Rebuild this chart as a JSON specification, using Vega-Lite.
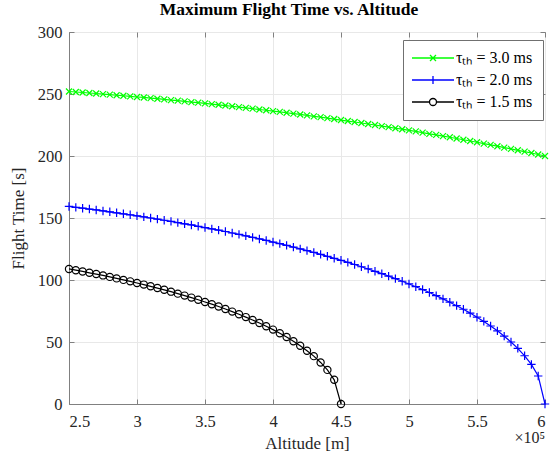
{
  "$schema": "https://vega.github.io/schema/vega-lite/v6.json",
  "width": 476,
  "height": 372,
  "autosize": {"type": "none"},
  "padding": {"left": 69, "top": 32, "right": 11, "bottom": 51},
  "background": "white",
  "title": {"text": "Maximum Flight Time vs. Altitude", "font": "Liberation Serif", "fontSize": 17.5, "fontWeight": "bold", "color": "#000000", "anchor": "middle", "frame": "group", "offset": 6, "dx": -18},
  "config": {
    "view": {"stroke": "#808080", "strokeWidth": 1},
    "axis": {"labelFont": "Liberation Serif", "labelFontSize": 16.5, "labelColor": "#262626", "titleFont": "Liberation Serif", "titleFontSize": 17, "titleFontWeight": "normal", "titleColor": "#262626", "domainColor": "#808080", "tickColor": "#808080", "gridColor": "#e8e8e8", "gridWidth": 1}
  },
  "data": {"values": [
    {"s":"3.0","h":250000,"t":252.0},{"s":"3.0","h":255000,"t":251.6},{"s":"3.0","h":260000,"t":251.2},{"s":"3.0","h":265000,"t":250.8},{"s":"3.0","h":270000,"t":250.4},{"s":"3.0","h":275000,"t":249.9},{"s":"3.0","h":280000,"t":249.5},{"s":"3.0","h":285000,"t":249.0},{"s":"3.0","h":290000,"t":248.6},{"s":"3.0","h":295000,"t":248.1},
    {"s":"3.0","h":300000,"t":247.6},{"s":"3.0","h":305000,"t":247.2},{"s":"3.0","h":310000,"t":246.7},{"s":"3.0","h":315000,"t":246.2},{"s":"3.0","h":320000,"t":245.7},{"s":"3.0","h":325000,"t":245.1},{"s":"3.0","h":330000,"t":244.6},{"s":"3.0","h":335000,"t":244.1},{"s":"3.0","h":340000,"t":243.5},{"s":"3.0","h":345000,"t":243.0},
    {"s":"3.0","h":350000,"t":242.4},{"s":"3.0","h":355000,"t":241.8},{"s":"3.0","h":360000,"t":241.3},{"s":"3.0","h":365000,"t":240.7},{"s":"3.0","h":370000,"t":240.1},{"s":"3.0","h":375000,"t":239.4},{"s":"3.0","h":380000,"t":238.8},{"s":"3.0","h":385000,"t":238.2},{"s":"3.0","h":390000,"t":237.5},{"s":"3.0","h":395000,"t":236.9},
    {"s":"3.0","h":400000,"t":236.2},{"s":"3.0","h":405000,"t":235.6},{"s":"3.0","h":410000,"t":234.9},{"s":"3.0","h":415000,"t":234.2},{"s":"3.0","h":420000,"t":233.5},{"s":"3.0","h":425000,"t":232.8},{"s":"3.0","h":430000,"t":232.0},{"s":"3.0","h":435000,"t":231.3},{"s":"3.0","h":440000,"t":230.5},{"s":"3.0","h":445000,"t":229.8},
    {"s":"3.0","h":450000,"t":229.0},{"s":"3.0","h":455000,"t":228.2},{"s":"3.0","h":460000,"t":227.4},{"s":"3.0","h":465000,"t":226.6},{"s":"3.0","h":470000,"t":225.8},{"s":"3.0","h":475000,"t":225.0},{"s":"3.0","h":480000,"t":224.1},{"s":"3.0","h":485000,"t":223.3},{"s":"3.0","h":490000,"t":222.4},{"s":"3.0","h":495000,"t":221.6},
    {"s":"3.0","h":500000,"t":220.7},{"s":"3.0","h":505000,"t":219.8},{"s":"3.0","h":510000,"t":218.9},{"s":"3.0","h":515000,"t":217.9},{"s":"3.0","h":520000,"t":217.0},{"s":"3.0","h":525000,"t":216.0},{"s":"3.0","h":530000,"t":215.1},{"s":"3.0","h":535000,"t":214.1},{"s":"3.0","h":540000,"t":213.1},{"s":"3.0","h":545000,"t":212.1},
    {"s":"3.0","h":550000,"t":211.1},{"s":"3.0","h":555000,"t":210.0},{"s":"3.0","h":560000,"t":209.0},{"s":"3.0","h":565000,"t":207.9},{"s":"3.0","h":570000,"t":206.8},{"s":"3.0","h":575000,"t":205.7},{"s":"3.0","h":580000,"t":204.6},{"s":"3.0","h":585000,"t":203.5},{"s":"3.0","h":590000,"t":202.4},{"s":"3.0","h":595000,"t":201.2},{"s":"3.0","h":600000,"t":200.0},
    {"s":"2.0","h":250000,"t":159.3},{"s":"2.0","h":255000,"t":158.6},{"s":"2.0","h":260000,"t":157.9},{"s":"2.0","h":265000,"t":157.2},{"s":"2.0","h":270000,"t":156.5},{"s":"2.0","h":275000,"t":155.7},{"s":"2.0","h":280000,"t":155.0},{"s":"2.0","h":285000,"t":154.2},{"s":"2.0","h":290000,"t":153.4},{"s":"2.0","h":295000,"t":152.6},
    {"s":"2.0","h":300000,"t":151.7},{"s":"2.0","h":305000,"t":150.9},{"s":"2.0","h":310000,"t":150.0},{"s":"2.0","h":315000,"t":149.1},{"s":"2.0","h":320000,"t":148.2},{"s":"2.0","h":325000,"t":147.3},{"s":"2.0","h":330000,"t":146.3},{"s":"2.0","h":335000,"t":145.3},{"s":"2.0","h":340000,"t":144.4},{"s":"2.0","h":345000,"t":143.3},
    {"s":"2.0","h":350000,"t":142.3},{"s":"2.0","h":355000,"t":141.2},{"s":"2.0","h":360000,"t":140.2},{"s":"2.0","h":365000,"t":139.1},{"s":"2.0","h":370000,"t":137.9},{"s":"2.0","h":375000,"t":136.8},{"s":"2.0","h":380000,"t":135.6},{"s":"2.0","h":385000,"t":134.4},{"s":"2.0","h":390000,"t":133.1},{"s":"2.0","h":395000,"t":131.9},
    {"s":"2.0","h":400000,"t":130.6},{"s":"2.0","h":405000,"t":129.3},{"s":"2.0","h":410000,"t":127.9},{"s":"2.0","h":415000,"t":126.5},{"s":"2.0","h":420000,"t":125.1},{"s":"2.0","h":425000,"t":123.7},{"s":"2.0","h":430000,"t":122.2},{"s":"2.0","h":435000,"t":120.7},{"s":"2.0","h":440000,"t":119.1},{"s":"2.0","h":445000,"t":117.5},
    {"s":"2.0","h":450000,"t":115.9},{"s":"2.0","h":455000,"t":114.2},{"s":"2.0","h":460000,"t":112.5},{"s":"2.0","h":465000,"t":110.7},{"s":"2.0","h":470000,"t":108.9},{"s":"2.0","h":475000,"t":107.0},{"s":"2.0","h":480000,"t":105.1},{"s":"2.0","h":485000,"t":103.1},{"s":"2.0","h":490000,"t":101.1},{"s":"2.0","h":495000,"t":99.0},
    {"s":"2.0","h":500000,"t":96.8},{"s":"2.0","h":505000,"t":94.6},{"s":"2.0","h":510000,"t":92.3},{"s":"2.0","h":515000,"t":89.9},{"s":"2.0","h":520000,"t":87.4},{"s":"2.0","h":525000,"t":84.8},{"s":"2.0","h":530000,"t":82.1},{"s":"2.0","h":535000,"t":79.3},{"s":"2.0","h":540000,"t":76.4},{"s":"2.0","h":545000,"t":73.3},
    {"s":"2.0","h":550000,"t":70.0},{"s":"2.0","h":555000,"t":66.6},{"s":"2.0","h":560000,"t":62.9},{"s":"2.0","h":565000,"t":59.0},{"s":"2.0","h":570000,"t":54.7},{"s":"2.0","h":575000,"t":50.0},{"s":"2.0","h":580000,"t":44.9},{"s":"2.0","h":585000,"t":38.9},{"s":"2.0","h":590000,"t":31.9},{"s":"2.0","h":595000,"t":22.6},{"s":"2.0","h":600000,"t":0},
    {"s":"1.5","h":250000,"t":108.9},{"s":"1.5","h":255000,"t":107.9},{"s":"1.5","h":260000,"t":106.9},{"s":"1.5","h":265000,"t":105.8},{"s":"1.5","h":270000,"t":104.8},{"s":"1.5","h":275000,"t":103.7},{"s":"1.5","h":280000,"t":102.5},{"s":"1.5","h":285000,"t":101.3},{"s":"1.5","h":290000,"t":100.1},{"s":"1.5","h":295000,"t":98.9},
    {"s":"1.5","h":300000,"t":97.6},{"s":"1.5","h":305000,"t":96.3},{"s":"1.5","h":310000,"t":94.9},{"s":"1.5","h":315000,"t":93.5},{"s":"1.5","h":320000,"t":92.1},{"s":"1.5","h":325000,"t":90.6},{"s":"1.5","h":330000,"t":89.0},{"s":"1.5","h":335000,"t":87.4},{"s":"1.5","h":340000,"t":85.8},{"s":"1.5","h":345000,"t":84.1},
    {"s":"1.5","h":350000,"t":82.3},{"s":"1.5","h":355000,"t":80.5},{"s":"1.5","h":360000,"t":78.6},{"s":"1.5","h":365000,"t":76.6},{"s":"1.5","h":370000,"t":74.5},{"s":"1.5","h":375000,"t":72.4},{"s":"1.5","h":380000,"t":70.1},{"s":"1.5","h":385000,"t":67.8},{"s":"1.5","h":390000,"t":65.3},{"s":"1.5","h":395000,"t":62.7},
    {"s":"1.5","h":400000,"t":60.0},{"s":"1.5","h":405000,"t":57.1},{"s":"1.5","h":410000,"t":54.0},{"s":"1.5","h":415000,"t":50.6},{"s":"1.5","h":420000,"t":47.0},{"s":"1.5","h":425000,"t":43.0},{"s":"1.5","h":430000,"t":38.6},{"s":"1.5","h":435000,"t":33.5},{"s":"1.5","h":440000,"t":27.5},{"s":"1.5","h":445000,"t":19.5},{"s":"1.5","h":450000,"t":0}
  ]},
  "layer": [
    {
      "mark": {"type": "line", "strokeWidth": 1.2},
      "encoding": {
        "x": {"field": "h", "type": "quantitative", "scale": {"domain": [250000, 600000], "nice": false, "zero": false},
              "axis": {"orient": "bottom", "title": "Altitude [m]", "values": [250000, 300000, 350000, 400000, 450000, 500000, 550000, 600000], "labelExpr": "datum.value / 100000 + ''", "tickSize": -5, "labelPadding": 14, "titlePadding": 6, "grid": true}},
        "y": {"field": "t", "type": "quantitative", "scale": {"domain": [0, 300], "nice": false},
              "axis": {"orient": "left", "title": "Flight Time [s]", "values": [0, 50, 100, 150, 200, 250, 300], "tickSize": -5, "labelPadding": 12, "titlePadding": 10, "grid": true}},
        "color": {"field": "s", "type": "nominal", "scale": {"domain": ["3.0", "2.0", "1.5"], "range": ["#00ff00", "#0000ff", "#000000"]},
                  "legend": {"title": null, "orient": "none", "legendX": 334, "legendY": 8, "fillColor": "white", "strokeColor": "#707070", "padding": 10, "labelFont": "Liberation Serif", "labelFontSize": 16, "labelColor": "#000000", "symbolSize": 100, "symbolOffset": 12, "labelOffset": 15, "rowPadding": 6, "symbolStrokeWidth": 1.3, "labelExpr": "'τₜₕ = ' + datum.label + ' ms'",
                             "encode": {"symbols": {"update": {"shape": {"signal": "datum.value === '3.0' ? 'M-4.2,0L4.2,0M-0.6,-0.6L0.6,0.6M-0.6,0.6L0.6,-0.6' : datum.value === '2.0' ? 'M-4.2,0L4.2,0M0,-0.8L0,0.8' : 'M-4.2,0L-0.7,0M0.7,0L4.2,0M0.7,0A0.7,0.7 0 1,1 -0.7,0A0.7,0.7 0 1,1 0.7,0'"}, "fill": {"value": "transparent"}}}}}}
      }
    },
    {
      "transform": [{"filter": "datum.s === '3.0'"}],
      "mark": {"type": "point", "filled": false, "strokeWidth": 1.2, "size": 36, "opacity": 1, "color": "#00ff00", "shape": "M-1,-1L1,1M-1,1L1,-1"},
      "encoding": {
        "x": {"field": "h", "type": "quantitative", "axis": {"orient": "top", "title": null, "labels": false, "domain": false, "grid": false, "tickSize": -5, "values": [250000, 300000, 350000, 400000, 450000, 500000, 550000, 600000]}},
        "y": {"field": "t", "type": "quantitative", "axis": {"orient": "right", "title": null, "labels": false, "domain": false, "grid": false, "tickSize": -5, "values": [0, 50, 100, 150, 200, 250, 300]}}
      }
    },
    {
      "transform": [{"filter": "datum.s === '2.0'"}],
      "mark": {"type": "point", "filled": false, "strokeWidth": 1.2, "size": 36, "opacity": 1, "color": "#0000ff", "shape": "M-1.4,0L1.4,0M0,-1.4L0,1.4"},
      "encoding": {
        "x": {"field": "h", "type": "quantitative", "axis": null},
        "y": {"field": "t", "type": "quantitative", "axis": null}
      }
    },
    {
      "transform": [{"filter": "datum.s === '1.5'"}],
      "mark": {"type": "point", "filled": false, "strokeWidth": 1.2, "size": 36, "opacity": 1, "color": "#000000", "shape": "M1.2,0A1.2,1.2 0 1,1 -1.2,0A1.2,1.2 0 1,1 1.2,0"},
      "encoding": {
        "x": {"field": "h", "type": "quantitative", "axis": null},
        "y": {"field": "t", "type": "quantitative", "axis": null}
      }
    },
    {
      "data": {"values": [{"note": "×10⁵"}]},
      "mark": {"type": "text", "align": "right", "baseline": "middle", "dy": 34, "font": "Liberation Serif", "fontSize": 16, "color": "#262626"},
      "encoding": {
        "x": {"datum": 600000, "type": "quantitative", "axis": null},
        "y": {"datum": 0, "type": "quantitative", "axis": null},
        "text": {"field": "note"}
      }
    }
  ],
  "resolve": {"axis": {"x": "independent", "y": "independent"}}
}
